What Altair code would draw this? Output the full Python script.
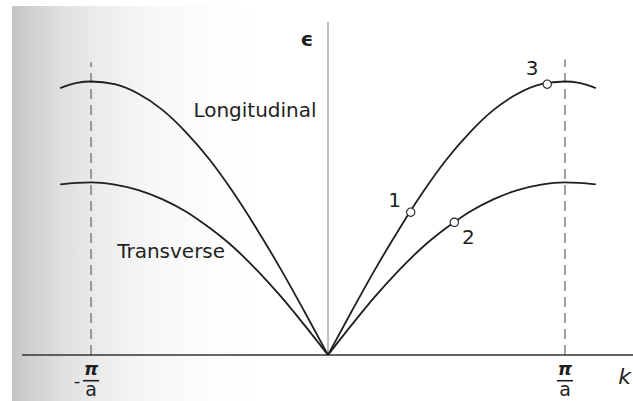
import altair as alt
import pandas as pd

# Dispersion branches, k in units of pi/a, energy in units of the longitudinal maximum
k_branch = [0.0, 0.1, 0.2, 0.3, 0.4, 0.5, 0.6, 0.7, 0.8, 0.9, 1.0, 1.06, 1.13]
eps_long = [0.0, 0.160, 0.315, 0.460, 0.595, 0.715, 0.815, 0.897, 0.955, 0.990, 1.0, 0.995, 0.976]
eps_trans = [0.0, 0.110, 0.215, 0.310, 0.395, 0.465, 0.525, 0.570, 0.603, 0.623, 0.631, 0.629, 0.624]

# Marked states on the right-hand branches
state_labels = ["1", "2", "3"]
state_k = [0.349, 0.533, 0.925]
state_eps = [0.522, 0.485, 0.990]

W, H = 633, 401
XS = alt.Scale(domain=[-1.384, 1.287], nice=False, zero=False)
YS = alt.Scale(domain=[-0.1682, 1.298], nice=False, zero=False)
INK = "#1f1f1f"
FONT = "DejaVu Sans"

rows = []
for branch, values in (("Longitudinal", eps_long), ("Transverse", eps_trans)):
    for side, sgn in (("left", -1), ("right", 1)):
        for kk, ee in zip(k_branch, values):
            rows.append({"branch": branch, "side": side, "series": branch + side,
                         "k": sgn * kk, "eps": ee})
curves_df = pd.DataFrame(rows)

x_enc = lambda f="k": alt.X(f"{f}:Q", scale=XS, axis=None)
y_enc = lambda f="eps": alt.Y(f"{f}:Q", scale=YS, axis=None)

# Scanner shading along the left margin, fading smoothly to white
shade = alt.Chart(pd.DataFrame({"a": [0]})).mark_rect(
    fill=alt.Gradient(
        gradient="linear", x1=0, x2=1, y1=0, y2=0,
        stops=[alt.GradientStop(offset=0, color="#c4c4c4"),
               alt.GradientStop(offset=0.08, color="#d0d0d0"),
               alt.GradientStop(offset=0.2, color="#e0e0e0"),
               alt.GradientStop(offset=0.35, color="#ececec"),
               alt.GradientStop(offset=0.55, color="#f7f7f7"),
               alt.GradientStop(offset=0.8, color="#fdfdfd"),
               alt.GradientStop(offset=1, color="#ffffff")],
    )
).encode(x=alt.value(12), x2=alt.value(262), y=alt.value(6), y2=alt.value(H))

curves = alt.Chart(curves_df).mark_line(
    color=INK, strokeWidth=1.8, interpolate="monotone"
).encode(x=x_enc(), y=y_enc(), detail="series:N", order="k:Q")

axes_df = pd.DataFrame({"k": [-1.291], "k2": [1.287], "e": [0.0]})
h_axis = alt.Chart(axes_df).mark_rule(color="#333333", strokeWidth=1.5).encode(
    x=x_enc(), x2="k2:Q", y=y_enc("e"))

v_axis = alt.Chart(pd.DataFrame({"k": [0.0], "e": [0.0], "e2": [1.218]})).mark_rule(
    color="#8a8a8a", strokeWidth=1.1).encode(x=x_enc(), y=y_enc("e"), y2="e2:Q")

zone_df = pd.DataFrame({"k": [-1.0, 1.0], "e": [0.0, 0.0], "e2": [1.07, 1.08]})
zone_edges = alt.Chart(zone_df).mark_rule(
    color="#555555", strokeWidth=1.1, strokeDash=[10, 6]).encode(
    x=x_enc(), y=y_enc("e"), y2="e2:Q")

states_df = pd.DataFrame({"label": state_labels, "k": state_k, "eps": state_eps,
                          "dx": [-16, 14, -15], "dy": [-11, 16, -15]})
markers = alt.Chart(states_df).mark_point(
    shape="circle", size=70, filled=True, fill="white", stroke=INK, strokeWidth=1.1, opacity=1
).encode(x=x_enc(), y=y_enc())

state_text = []
for i, lab in enumerate(state_labels):
    row = states_df.iloc[[i]]
    state_text.append(
        alt.Chart(row).mark_text(font=FONT, fontSize=20, color=INK,
                                 dx=int(row["dx"].iloc[0]), dy=int(row["dy"].iloc[0]))
        .encode(x=x_enc(), y=y_enc(), text="label:N")
    )

names_df = pd.DataFrame({"label": ["Longitudinal", "Transverse"],
                         "k": [-0.308, -0.662], "eps": [0.892, 0.377]})
names = alt.Chart(names_df).mark_text(font=FONT, fontSize=20, color=INK).encode(
    x=x_enc(), y=y_enc(), text="label:N")

sym_df = pd.DataFrame({"label": ["\u03f5", "k"], "k": [-0.089, 1.252], "eps": [1.152, -0.080]})
eps_sym = alt.Chart(sym_df.iloc[[0]]).mark_text(font=FONT, fontSize=20, fontWeight="bold",
                                               color=INK).encode(x=x_enc(), y=y_enc(), text="label:N")
k_sym = alt.Chart(sym_df.iloc[[1]]).mark_text(font=FONT, fontSize=22, fontStyle="italic",
                                             color=INK).encode(x=x_enc(), y=y_enc(), text="label:N")

# Zone-boundary tick labels written as fractions pi / a
frac_df = pd.DataFrame({"k": [-1.0, 1.0]})
numer = alt.Chart(frac_df.assign(t="\u03c0", e=-0.056)).mark_text(
    font=FONT, fontSize=18, fontWeight="bold", fontStyle="italic", color=INK).encode(
    x=x_enc(), y=y_enc("e"), text="t:N")
denom = alt.Chart(frac_df.assign(t="a", e=-0.128)).mark_text(
    font=FONT, fontSize=19, color=INK).encode(x=x_enc(), y=y_enc("e"), text="t:N")
bars = alt.Chart(frac_df.assign(ka=frac_df["k"] - 0.034, kb=frac_df["k"] + 0.034, e=-0.094)).mark_rule(
    color=INK, strokeWidth=1.6).encode(x=x_enc("ka"), x2="kb:Q", y=y_enc("e"))
minus = alt.Chart(pd.DataFrame({"k": [-1.059], "e": [-0.098], "t": ["-"]})).mark_text(
    font=FONT, fontSize=18, color=INK).encode(x=x_enc(), y=y_enc("e"), text="t:N")

chart = alt.layer(
    shade, zone_edges, v_axis, h_axis, curves, markers, *state_text, names,
    eps_sym, k_sym, numer, denom, bars, minus
).properties(
    width=W, height=H, autosize=alt.AutoSizeParams(type="none"), padding=0,
    background="white"
).configure_view(strokeWidth=0)

chart.save("out.html", embed_options={"renderer": "svg", "actions": False})
